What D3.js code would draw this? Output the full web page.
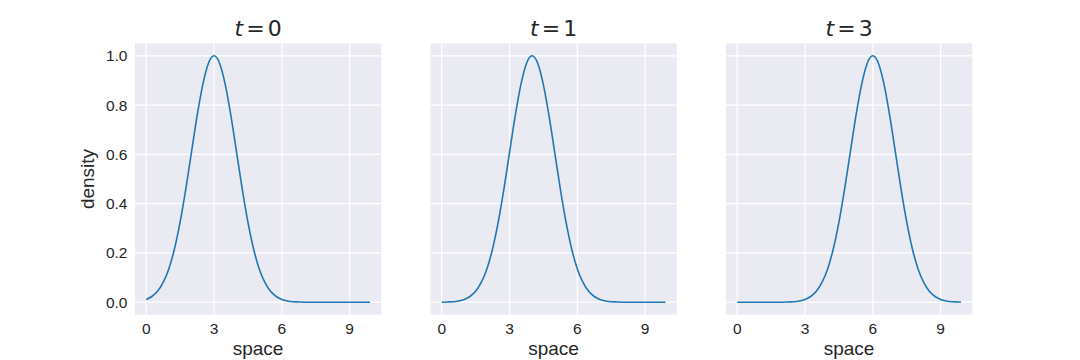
<!DOCTYPE html>
<html>
<head>
<meta charset="utf-8">
<script src="https://cdn.jsdelivr.net/npm/d3@7"></script>
<style>
  body { margin: 0; background: #fff; }
  text { fill: #262626; }
</style>
</head>
<body>
<svg id="chart" width="1080" height="360"></svg>
<script>
// sample positions along the x axis
var space = [0, 0.25, 0.5, 0.75, 1, 1.25, 1.5, 1.75, 2, 2.25, 2.5, 2.75, 3, 3.25, 3.5, 3.75,
  4, 4.25, 4.5, 4.75, 5, 5.25, 5.5, 5.75, 6, 6.25, 6.5, 6.75, 7, 7.25, 7.5, 7.75,
  8, 8.25, 8.5, 8.75, 9, 9.25, 9.5, 9.75, 9.9];

// density
var density_t0 = [0.011, 0.023, 0.044, 0.080, 0.135, 0.216, 0.325, 0.458, 0.607, 0.755, 0.882, 0.969,
  1.0, 0.969, 0.882, 0.755, 0.607, 0.458, 0.325, 0.216, 0.135, 0.080, 0.044, 0.023, 0.011, 0.005,
  0.002, 0.001, 0, 0, 0, 0, 0, 0, 0, 0, 0, 0, 0, 0, 0];
var density_t1 = [0.000, 0.001, 0.002, 0.005, 0.011, 0.023, 0.044, 0.080, 0.135, 0.216, 0.325, 0.458,
  0.607, 0.755, 0.882, 0.969, 1.0, 0.969, 0.882, 0.755, 0.607, 0.458, 0.325, 0.216, 0.135, 0.080,
  0.044, 0.023, 0.011, 0.005, 0.002, 0.001, 0, 0, 0, 0, 0, 0, 0, 0, 0];
var density_t3 = [0, 0, 0, 0, 0, 0, 0, 0, 0, 0.001, 0.002, 0.005, 0.011, 0.023, 0.044, 0.080, 0.135,
  0.216, 0.325, 0.458, 0.607, 0.755, 0.882, 0.969, 1.0, 0.969, 0.882, 0.755, 0.607, 0.458, 0.325,
  0.216, 0.135, 0.080, 0.044, 0.023, 0.011, 0.005, 0.002, 0.001, 0.0005];

var times = ["0", "1", "3"];
var series = [density_t0, density_t1, density_t3];
var xTicks = [0, 3, 6, 9];
var yTicks = [0, 0.2, 0.4, 0.6, 0.8, 1.0];

var svg = d3.select("#chart");

// axes boxes (matplotlib subplots, wspace 0.2)
var lefts = [135, 430.5, 726],
    pw = 246.2,
    axTop = 43.5,
    axBottom = 314.5;

var x = d3.scaleLinear().domain([-0.495, 10.395]).range([0, pw]);
var y = d3.scaleLinear().domain([-0.05, 1.05]).range([axBottom, axTop]);

var line = d3.line()
    .x(function(d) { return x(d[0]); })
    .y(function(d) { return y(d[1]); })
    .curve(d3.curveMonotoneX);

var sans = "'Liberation Sans', Arial, sans-serif";

series.forEach(function(vals, i) {
  var g = svg.append("g").attr("transform", "translate(" + lefts[i] + ",0)");

  g.append("rect")
      .attr("x", 0).attr("y", axTop)
      .attr("width", pw).attr("height", axBottom - axTop)
      .attr("fill", "#eaeaf2");

  // grid
  g.selectAll(".gx").data(xTicks).enter().append("line")
      .attr("x1", function(d) { return x(d); }).attr("x2", function(d) { return x(d); })
      .attr("y1", axTop).attr("y2", axBottom)
      .attr("stroke", "#fff").attr("stroke-width", 1.2);
  g.selectAll(".gy").data(yTicks).enter().append("line")
      .attr("x1", 0).attr("x2", pw)
      .attr("y1", function(d) { return y(d); }).attr("y2", function(d) { return y(d); })
      .attr("stroke", "#fff").attr("stroke-width", 1.2);

  // x tick labels
  g.selectAll(".tx").data(xTicks).enter().append("text")
      .attr("x", function(d) { return x(d); })
      .attr("y", 334)
      .attr("text-anchor", "middle")
      .attr("font-family", sans).attr("font-size", 15.5)
      .text(function(d) { return d; });

  if (i === 0) {
    g.selectAll(".ty").data(yTicks).enter().append("text")
        .attr("x", -7.5)
        .attr("y", function(d) { return y(d) + 5.5; })
        .attr("text-anchor", "end")
        .attr("font-family", sans).attr("font-size", 15.5)
        .text(function(d) { return d3.format(".1f")(d); });

    g.append("text")
        .attr("transform", "translate(-41," + ((axTop + axBottom) / 2) + ") rotate(-90)")
        .attr("text-anchor", "middle")
        .attr("font-family", sans).attr("font-size", 19)
        .text("density");
  }

  g.append("text")
      .attr("x", pw / 2).attr("y", 355)
      .attr("text-anchor", "middle")
      .attr("font-family", sans).attr("font-size", 19)
      .text("space");

  // title, mathtext style
  var t = g.append("text")
      .attr("x", pw / 2).attr("y", 36)
      .attr("text-anchor", "middle")
      .attr("font-family", "'DejaVu Sans', sans-serif").attr("font-size", 22);
  t.append("tspan").attr("font-style", "italic").text("t");
  t.append("tspan").attr("dx", 3).text("=");
  t.append("tspan").attr("dx", 3).text(times[i]);

  g.append("path")
      .datum(d3.zip(space, vals))
      .attr("d", line)
      .attr("fill", "none")
      .attr("stroke", "#1f77b4")
      .attr("stroke-width", 1.6);
});
</script>
</body>
</html>
